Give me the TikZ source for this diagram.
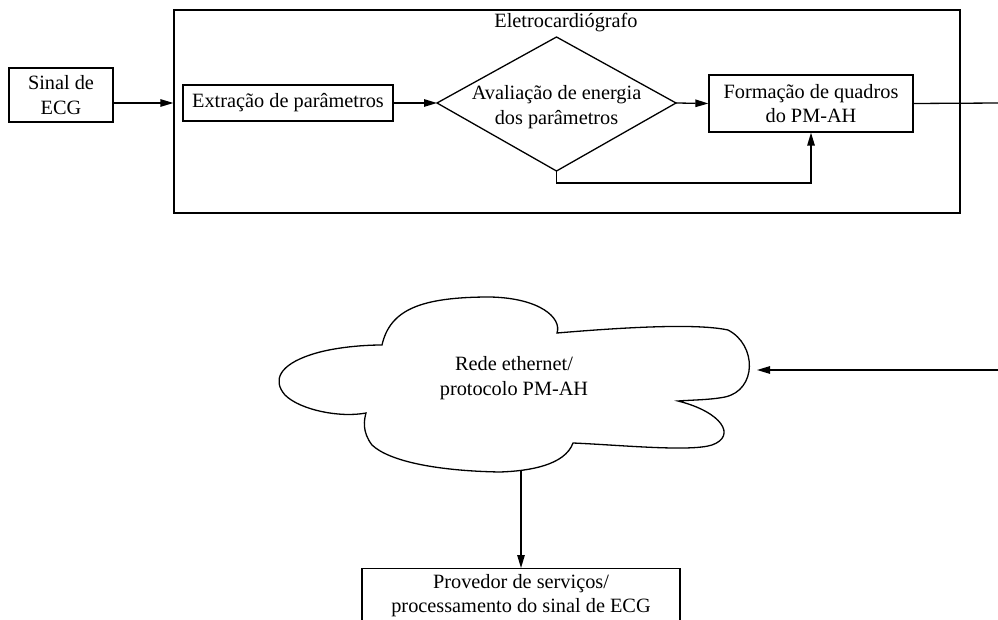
\documentclass[tikz,border=0pt]{standalone}
\usepackage{fontspec}
\setmainfont{Liberation Serif}
\usetikzlibrary{arrows.meta}
\begin{document}
\begin{tikzpicture}[x=1pt,y=-1pt,
  font=\fontsize{20.3}{24.5}\selectfont,
  box/.style={draw,line width=1.3pt,inner sep=0pt,align=center},
  ln/.style={line width=1.3pt},
  arr/.style={line width=1.3pt,-{Triangle[length=13pt,width=7.5pt]}}]
\clip (0,0) rectangle (998,620);

% --- ECG device ---
\node[box,minimum width=104pt,minimum height=54pt] (sinal) at (61,95) {Sinal de\\ECG};
\node[box,minimum width=786pt,minimum height=203pt] (ecg) at (567,111.5) {};
\node[anchor=base] (titulo) at (566,28) {Eletrocardiógrafo};
\node[box,minimum width=210pt,minimum height=36pt] (ext) at (288,103) {Extração de parâmetros};

% decision diamond
\coordinate (avalW) at (437,103);
\coordinate (avalE) at (676,103);
\coordinate (avalN) at (556.5,37);
\coordinate (avalS) at (556.5,171);
\draw[ln] (avalW) -- (avalN) -- (avalE) -- (avalS) -- cycle;
\node[align=center] (aval) at (556.5,107) {Avaliação de energia\\dos parâmetros};

\node[box,minimum width=204pt,minimum height=57pt] (form) at (811,103.5) {Formação de quadros\\do PM-AH};

\coordinate (outR) at (1000,103);
\draw[arr] (sinal.east |- ext.west) -- (ecg.west |- ext.west);
\draw[arr] (ext.east) -- (avalW);
\draw[arr] (avalE) -- (form.west);
\draw[arr] (avalS) -- ++(0,12) -| (form.south);
\draw[ln] (form.east) -- (outR);

% --- network cloud ---
\draw[ln] (382,345)
  .. controls (390,310) and (420,297) .. (490,297)
  .. controls (540,298) and (562,318) .. (557,333)
  .. controls (640,326) and (700,324) .. (728,330)
  .. controls (757,345) and (757,390) .. (725,397)
  .. controls (710,400) and (690,400) .. (678,401)
  .. controls (722,412) and (737,436) .. (712,445)
  .. controls (690,452) and (620,445) .. (573,443)
  .. controls (565,465) and (530,471) .. (500,472)
  .. controls (440,471) and (390,462) .. (372,445)
  .. controls (362,432) and (364,420) .. (366,413)
  .. controls (340,418) and (300,410) .. (285,395)
  .. controls (272,380) and (280,365) .. (310,355)
  .. controls (330,348) and (360,345) .. (382,345) -- cycle;
\node[align=center] (rede) at (514,378) {Rede ethernet/\\protocolo PM-AH};

\coordinate (inR) at (1000,370);
\coordinate (redeE) at (757,370);
\coordinate (redeS) at (521,471);
\draw[arr] (inR) -- (redeE);

% --- service provider ---
\node[box,minimum width=318pt,minimum height=54pt,anchor=north] (prov) at (521,568) {Provedor de serviços/\\processamento do sinal de ECG};
\draw[arr] (redeS) -- (prov.north);
\end{tikzpicture}
\end{document}
